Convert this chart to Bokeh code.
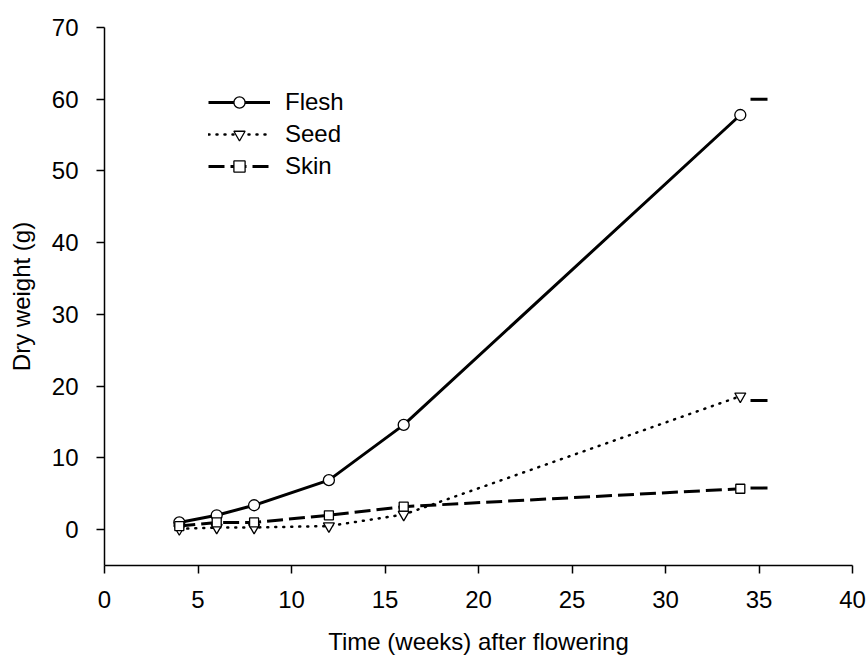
from bokeh.plotting import figure
from bokeh.models import FixedTicker, Range1d, Legend
from bokeh.embed import file_html
from bokeh.resources import INLINE

weeks = [4, 6, 8, 12, 16, 34]
flesh = [1.0, 2.0, 3.4, 6.9, 14.6, 57.8]
seed = [0.1, 0.3, 0.3, 0.5, 2.1, 18.6]
skin = [0.5, 1.0, 1.0, 2.0, 3.2, 5.7]

ref_x = [35, 35, 35]
ref_y = [60.0, 18.0, 5.8]

x_ticks = [0, 5, 10, 15, 20, 25, 30, 35, 40]
y_ticks = [0, 10, 20, 30, 40, 50, 60, 70]

FONT = "Liberation Sans"
FS = "24px"

p = figure(width=868, height=659, output_backend="svg", toolbar_location=None,
           x_range=Range1d(0, 40), y_range=Range1d(-5, 70),
           min_border_left=104, min_border_right=16, min_border_top=27, min_border_bottom=94)
p.outline_line_color = None
p.xgrid.visible = False
p.ygrid.visible = False
p.background_fill_color = "white"

l1 = p.line(weeks, flesh, line_color="black", line_width=3)
s1 = p.scatter(weeks, flesh, marker="circle", size=11, fill_color="white", line_color="black", line_width=1.3)
l2 = p.line(weeks, seed, line_color="black", line_width=2.5, line_dash="1 7", line_cap="round")
s2 = p.scatter(weeks, seed, marker="inverted_triangle", size=11, fill_color="white", line_color="black", line_width=1.3)
l3 = p.line(weeks, skin, line_color="black", line_width=3, line_dash="16 6")
s3 = p.scatter(weeks, skin, marker="square", size=9, fill_color="white", line_color="black", line_width=1.3)

p.scatter(ref_x, ref_y, marker="dash", size=17, line_color="black", line_width=3)

legend = Legend(items=[("Flesh", [l1, s1]), ("Seed", [l2, s2]), ("Skin", [l3, s3])],
                location=(104, 385))
legend.border_line_color = None
legend.background_fill_alpha = 0
legend.padding = 0
legend.margin = 0
legend.spacing = 4
legend.glyph_width = 62
legend.glyph_height = 28
legend.label_height = 28
legend.label_standoff = 15
legend.label_text_font = FONT
legend.label_text_font_size = FS
legend.label_text_color = "black"
p.add_layout(legend, "center")

for ax in (p.xaxis[0], p.yaxis[0]):
    ax.major_label_text_font = FONT
    ax.major_label_text_font_size = FS
    ax.major_label_text_color = "black"
    ax.axis_label_text_font = FONT
    ax.axis_label_text_font_size = FS
    ax.axis_label_text_font_style = "normal"
    ax.axis_label_text_color = "black"
    ax.axis_line_color = "black"
    ax.axis_line_width = 1.5
    ax.major_tick_line_color = "black"
    ax.major_tick_line_width = 1.5
    ax.major_tick_out = 8
    ax.major_tick_in = 0
    ax.minor_tick_line_color = None

p.xaxis.ticker = FixedTicker(ticks=x_ticks)
p.yaxis.ticker = FixedTicker(ticks=y_ticks)
p.xaxis.axis_label = "Time (weeks) after flowering"
p.yaxis.axis_label = "Dry weight (g)"
p.xaxis.major_label_standoff = 17
p.yaxis.major_label_standoff = 18
p.xaxis.axis_label_standoff = 17
p.yaxis.axis_label_standoff = 14

open("out.html", "w").write(file_html(p, INLINE))
